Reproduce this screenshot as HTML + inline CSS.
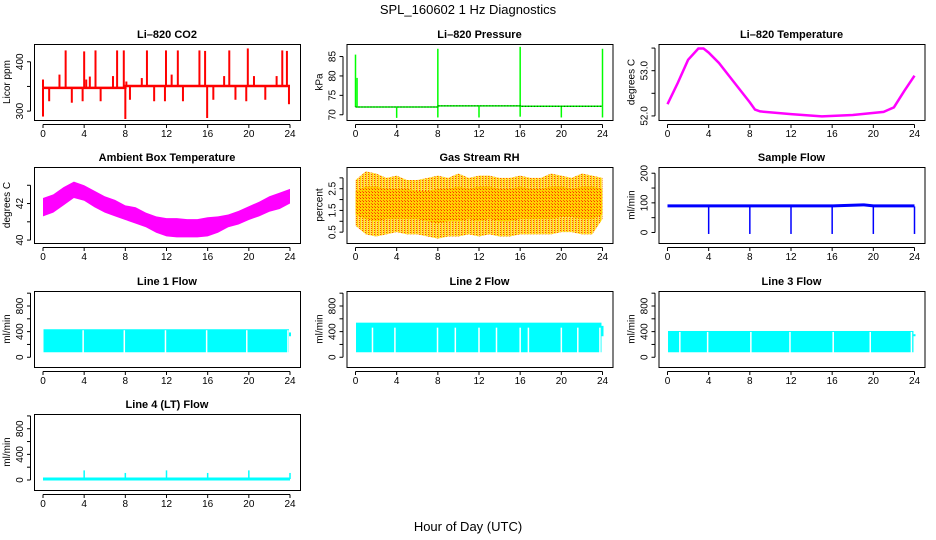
<!DOCTYPE html>
<html><head><meta charset="utf-8"><style>
html,body{margin:0;padding:0;background:#fff;}
svg{display:block;font-family:"Liberation Sans",Helvetica,sans-serif;}
</style></head><body>
<svg id="c" width="936" height="540" viewBox="0 0 936 540" xmlns="http://www.w3.org/2000/svg">
<text x="468" y="14" text-anchor="middle" font-size="13">SPL_160602  1 Hz Diagnostics</text>
<text x="468" y="531" text-anchor="middle" font-size="13">Hour of Day (UTC)</text>
<defs>
<pattern id="rhp" width="3" height="3" patternUnits="userSpaceOnUse"><rect width="3" height="3" fill="#ffd000"/><rect width="1" height="1" fill="#ff3000"/><rect x="2" y="2" width="1" height="1" fill="#ff6000"/></pattern>
<pattern id="rho" width="3" height="2" patternUnits="userSpaceOnUse"><rect width="3" height="2" fill="#ffe060"/><rect width="1" height="2" fill="#ffd000"/><rect x="2" width="1" height="1" fill="#ff5000"/></pattern>
</defs>
</svg>
<script>
// ---- data ----
const hours = [0,1,2,3,4,5,6,7,8,9,10,11,12,13,14,15,16,17,18,19,20,21,22,23,24];
const xTicks = [0,4,8,12,16,20,24];
const co2BaseHours = [0,8,8,24];
const co2Base = [347,347,351,351];
const co2SpikeHours = [0.0,0.0,0.6,1.6,2.2,2.8,3.85,4.0,4.2,4.55,5.1,5.6,6.8,7.2,7.85,8.0,8.1,8.45,9.6,10.1,10.8,11.85,11.95,12.5,13.1,13.6,15.2,15.75,15.95,16.55,17.6,18.1,18.7,19.75,19.9,20.5,21.6,22.7,23.25,23.7,23.9];
const co2SpikeValues = [364,289,320,374,423,317,320,421,364,370,423,320,371,423,423,284,360,323,367,423,320,320,423,374,423,320,423,422,286,323,371,423,323,320,427,371,323,371,423,422,314];
const presBaseHours = [0,8,8,16,16,24];
const presBase = [72.0,72.0,72.3,72.3,72.2,72.2];
const presSpikeHours = [0,0.15,4,8,8,12,16,16,20,24,24];
const presSpikeValues = [85.5,79.5,69.2,87,69.3,69.3,87.5,69.5,69.3,87,69.3];
const tempHours = [0,1,2,3,3.5,4,5,6,7,8,8.5,9,12,15,18,21,22,23,24];
const tempValues = [52.26,52.73,53.24,53.49,53.49,53.4,53.17,52.88,52.59,52.3,52.14,52.1,52.04,51.99,52.02,52.09,52.19,52.55,52.89];
const ambHi = [42.3,42.5,42.9,43.2,43.0,42.7,42.4,42.2,41.9,41.8,41.5,41.3,41.2,41.2,41.15,41.15,41.25,41.3,41.4,41.6,41.85,42.1,42.4,42.6,42.8];
const ambLo = [41.3,41.5,41.9,42.3,42.15,41.8,41.5,41.3,41.1,40.9,40.7,40.4,40.2,40.15,40.15,40.15,40.2,40.4,40.7,40.85,41.1,41.3,41.55,41.7,42.0];
const rhMax = [2.9,3.3,3.2,3.0,3.1,2.9,2.9,3.0,3.1,3.0,3.2,3.0,3.1,3.1,3.0,3.0,3.1,3.0,3.0,3.2,3.1,3.0,3.2,3.1,3.0];
const rhMin = [0.8,0.4,0.3,0.4,0.5,0.4,0.4,0.3,0.2,0.3,0.3,0.4,0.3,0.4,0.3,0.3,0.4,0.4,0.4,0.4,0.5,0.5,0.4,0.4,1.1];
const rhCoreHi = [2.4,2.6,2.6,2.5,2.5,2.5,2.4,2.4,2.5,2.5,2.6,2.5,2.6,2.6,2.5,2.5,2.6,2.5,2.5,2.6,2.6,2.5,2.6,2.6,2.5];
const rhCoreLo = [1.3,1.1,1.0,1.1,1.1,1.1,1.1,1.0,0.9,1.0,1.0,1.1,1.0,1.1,1.0,1.0,1.1,1.1,1.1,1.1,1.2,1.2,1.1,1.1,1.3];
const flowBase = [90,90,90,90,93,93,90,90];
const flowBaseHours = [0,12,16,16.1,19,19.1,20,24];
const flowDropHours = [4,8,12,16,20,24];
const flowDropValue = -5;
const line1Hi = 437, line1Lo = 78;
const line1Gaps = [3.9,7.9,11.9,15.9,19.8,23.8];
const line2Hi = 540, line2Lo = 78, line2GapTop = 462;
const line2Gaps = [1.65,3.83,7.97,9.7,12.0,13.7,16.0,16.8,20.0,21.6,23.75];
const line3Hi = 410, line3Lo = 78;
const line3Gaps = [1.2,3.9,8.1,11.9,16.1,19.7,23.7];
const line4Base = 15;
const line4SpikeHours = [4,8,12,16,20,24];
const line4SpikeValues = [150,110,150,110,150,110];

// ---- rendering ----
const svg = document.getElementById('c');
const NS = 'http://www.w3.org/2000/svg';
function mk(tag, attrs, parent){ const e=document.createElementNS(NS,tag); for(const k in attrs) e.setAttribute(k,attrs[k]); (parent||svg).appendChild(e); return e; }
const W=266, H=76;
function panel(name, title, x0, y0, yBot, yTop, yTicks, yLabels, ylab){
  const g = mk('g',{});
  
  
  const X = h => x0 + 9 + h*(247/24);
  const Y = v => y0 + H - (v - yBot)/(yTop - yBot)*H;
  const t = mk('text',{x:x0+W/2,y:y0-6,'text-anchor':'middle','font-size':'11','font-weight':'bold'},g);
  t.textContent = title;
  
  
  const plot = mk('g',{},g);
  
  
  const ax = mk('g',{stroke:'#000','stroke-width':'1',fill:'none'},g);
  
  
  mk('rect',{x:x0+0.5,y:y0+0.5,width:W,height:H},ax);
  mk('line',{x1:X(0),x2:X(24),y1:y0+H+4.5,y2:y0+H+4.5},ax);
  xTicks.forEach(v=>{
    mk('line',{x1:X(v),x2:X(v),y1:y0+H+4.5,y2:y0+H+8},ax);
    const l = mk('text',{x:X(v),y:y0+H+17,'text-anchor':'middle','font-size':'10'},g);
    l.textContent = v;
    
    
  });
  const yt0 = Y(yTicks[0]), yt1 = Y(yTicks[yTicks.length-1]);
  mk('line',{x1:x0-3.5,x2:x0-3.5,y1:yt0,y2:yt1},ax);
  yTicks.forEach((v,i)=>{
    mk('line',{x1:x0-7,x2:x0-3.5,y1:Y(v),y2:Y(v)},ax);
    if(yLabels[i]!==''){
      const l = mk('text',{transform:`translate(${x0-11},${Y(v)}) rotate(-90)`,'text-anchor':'middle','font-size':'10'},g);
      l.textContent = yLabels[i];
      
      
    }
  });
  const yl = mk('text',{transform:`translate(${x0-24},${y0+H/2}) rotate(-90)`,'text-anchor':'middle','font-size':'10'},g);
  yl.textContent = ylab;
  
  
  return {X,Y,plot};
}
const C=[34,346.5,658.5], R=[44,167,291,414];
function line(p, xs, ys, col, w){ return mk('polyline',{points:xs.map((h,i)=>p.X(h)+','+p.Y(ys[i])).join(' '),fill:'none',stroke:col,'stroke-width':w},p.plot); }
function vline(p,h,v1,v2,col,w){ return mk('line',{x1:p.X(h),x2:p.X(h),y1:p.Y(v1),y2:p.Y(v2),stroke:col,'stroke-width':w},p.plot); }
function band(p, xs, hi, lo, fill){
  const pts = xs.map((h,i)=>p.X(h)+','+p.Y(hi[i])).concat(xs.slice().reverse().map((h,j)=>p.X(h)+','+p.Y(lo[xs.length-1-j])));
  return mk('polygon',{points:pts.join(' '),fill:fill},p.plot);
}

// CO2
let p = panel('co2-panel','Li\u2013820 CO2',C[0],R[0],282,436,[300,350,400],['300','','400'],'Licor ppm');
co2SpikeHours.forEach((h,i)=>{ const b = h<8?347:351; const s=vline(p,h,b,co2SpikeValues[i],'#ff0000',2);   });
let s = line(p,co2BaseHours,co2Base,'#ff0000',2.5);
 

// Pressure
p = panel('pressure-panel','Li\u2013820 Pressure',C[1],R[0],68.65,88.23,[70,75,80,85],['70','75','80','85'],'kPa');
presSpikeHours.forEach((h,i)=>{ const b = h<8?72:(h<16?72.3:72.2); const s=vline(p,h,b,presSpikeValues[i],'#00ff00',1.5);   });
s = line(p,presBaseHours,presBase,'#00ee00',1.5);
 
s = line(p,presBaseHours,presBase,'#004400',1); s.setAttribute('stroke-dasharray','1 2');
 

// Li-820 temperature
p = panel('li820-temperature-panel','Li\u2013820 Temperature',C[2],R[0],51.91,53.59,[52,52.5,53,53.5],['52.0','','53.0',''],'degrees C');
s = line(p,tempHours,tempValues,'#ff00ff',2.5);
 

// Ambient
p = panel('ambient-temperature-panel','Ambient Box Temperature',C[0],R[1],39.84,44.0,[40,41,42,43],['40','','42',''],'degrees C');
s = band(p,hours,ambHi,ambLo,'#ff00ff');
 

// RH
p = panel('rh-panel','Gas Stream RH',C[1],R[1],0.0,3.5,[0.5,1,1.5,2,2.5,3],['0.5','','1.5','','2.5',''],'percent');
s = band(p,hours,rhMax,rhMin,'url(#rho)');
 
s = band(p,hours,rhCoreHi,rhCoreLo,'url(#rhp)');
 

// Sample flow
p = panel('sample-flow-panel','Sample Flow',C[2],R[1],-35.5,221,[0,50,100,150,200],['0','','100','','200'],'ml/min');
flowDropHours.forEach(h=>{ const s=vline(p,h,88,flowDropValue,'#0000ff',1.5);   });
s = line(p,flowBaseHours,flowBase,'#0000ff',3);
 

// Line flows
const fTicks=[0,200,400,600,800,1000], fLab=['0','','400','','800',''];
function flowPanel(name,title,col,row,yb,yt,hi,lo,gaps,gapTop){
  const p = panel(name,title,C[col],R[row],yb,yt,fTicks,fLab,'ml/min');
  const r = mk('rect',{x:p.X(0.05),y:p.Y(hi),width:p.X(23.9)-p.X(0.05),height:p.Y(lo)-p.Y(hi),fill:'#00ffff'},p.plot);
   
  gaps.forEach(h=>{ const g=vline(p,h,lo-5,gapTop,'#ffffff',1.5);   });
  const t=vline(p,24,lo+250,hi-50,'#00ffff',2);  
}
flowPanel('line1-flow-panel','Line 1 Flow',0,2,-152,1034,line1Hi,line1Lo,line1Gaps,line1Hi-15);
flowPanel('line2-flow-panel','Line 2 Flow',1,2,-152,1034,line2Hi,line2Lo,line2Gaps,line2GapTop);
flowPanel('line3-flow-panel','Line 3 Flow',2,2,-152,1034,line3Hi,line3Lo,line3Gaps,line3Hi-15);

p = panel('line4-flow-panel','Line 4 (LT) Flow',C[0],R[3],-156,1030,fTicks,fLab,'ml/min');
line4SpikeHours.forEach((h,i)=>{ const s=vline(p,h,line4Base,line4SpikeValues[i],'#00ffff',1.5);   });
s = line(p,[0,24],[line4Base,line4Base],'#00ffff',3);
 
</script>
</body></html>
